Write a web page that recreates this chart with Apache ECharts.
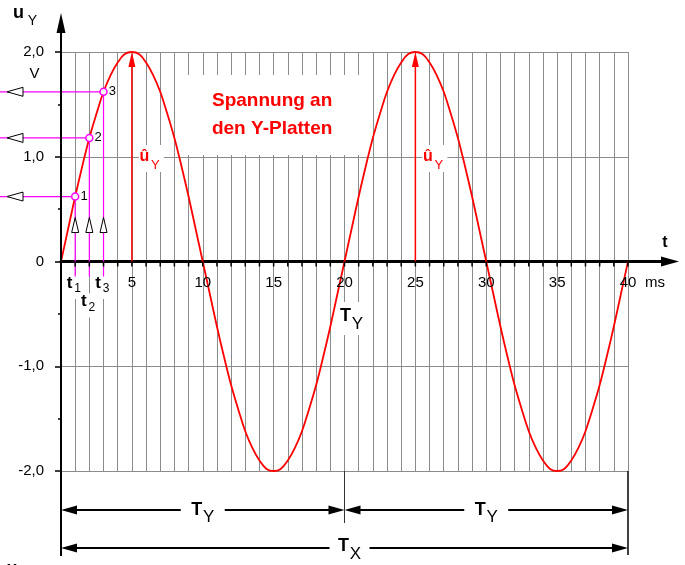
<!DOCTYPE html>
<html>
<head>
<meta charset="utf-8">
<script src="https://cdn.jsdelivr.net/npm/echarts@6/dist/echarts.min.js"></script>
<style>
  html, body { margin: 0; padding: 0; background: #fff; }
  #chart { width: 685px; height: 565px; }
</style>
</head>
<body>
<div id="chart"></div>
<script>
// time axis in ms (half-millisecond steps) and the voltage
const timeMs = [0, 0.5, 1, 1.5, 2, 2.5, 3, 3.5, 4, 4.5, 5, 5.5, 6, 6.5, 7, 7.5, 8, 8.5, 9, 9.5,
  10, 10.5, 11, 11.5, 12, 12.5, 13, 13.5, 14, 14.5, 15, 15.5, 16, 16.5, 17, 17.5, 18, 18.5, 19, 19.5,
  20, 20.5, 21, 21.5, 22, 22.5, 23, 23.5, 24, 24.5, 25, 25.5, 26, 26.5, 27, 27.5, 28, 28.5, 29, 29.5,
  30, 30.5, 31, 31.5, 32, 32.5, 33, 33.5, 34, 34.5, 35, 35.5, 36, 36.5, 37, 37.5, 38, 38.5, 39, 39.5, 40];
const voltageV = [0, 0.31, 0.62, 0.91, 1.18, 1.41, 1.62, 1.78, 1.90, 1.98,
  2.00, 1.98, 1.90, 1.78, 1.62, 1.41, 1.18, 0.91, 0.62, 0.31,
  0, -0.31, -0.62, -0.91, -1.18, -1.41, -1.62, -1.78, -1.90, -1.98,
  -2.00, -1.98, -1.90, -1.78, -1.62, -1.41, -1.18, -0.91, -0.62, -0.31,
  0, 0.31, 0.62, 0.91, 1.18, 1.41, 1.62, 1.78, 1.90, 1.98,
  2.00, 1.98, 1.90, 1.78, 1.62, 1.41, 1.18, 0.91, 0.62, 0.31,
  0, -0.31, -0.62, -0.91, -1.18, -1.41, -1.62, -1.78, -1.90, -1.98,
  -2.00, -1.98, -1.90, -1.78, -1.62, -1.41, -1.18, -0.91, -0.62, -0.31, 0];
const xTickLabels = [5, 10, 15, 20, 25, 30, 35, 40];
const peakTimes = [5, 25];
const readTimes = [1, 2, 3];
const readVolts = [0.62, 1.18, 1.62];
const readLabels = ['1', '2', '3'];
const readTimeSubs = ['1', '2', '3'];
const yTickLabels = { '2': '2,0', '1': '1,0', '0': '0', '-1': '-1,0', '-2': '-2,0' };
const periodBounds = [0, 20, 40];

const FONT = '"Liberation Sans", Arial, sans-serif';
const RED = '#ff0000';
const MAGENTA = '#ff00ff';
const GRIDC = '#8c8c8c';

const chart = echarts.init(document.getElementById('chart'));
chart.setOption({
  animation: false,
  grid: { left: 61, right: 57, top: 52, bottom: 94 },
  xAxis: {
    type: 'value', min: 0, max: 40, interval: 1,
    axisLine: { onZero: true, lineStyle: { color: '#000', width: 3 } },
    axisTick: { show: false },
    axisLabel: { show: false },
    splitLine: { show: true, lineStyle: { color: GRIDC, width: 1 } }
  },
  yAxis: {
    type: 'value', min: -2, max: 2, interval: 1,
    axisLine: { show: false },
    axisTick: { show: true, length: 6, lineStyle: { color: '#000', width: 1.5 } },
    minorTick: { show: true, splitNumber: 2, length: 3, lineStyle: { color: '#000', width: 1.5 } },
    axisLabel: {
      margin: 17, fontSize: 15, color: '#000', fontFamily: FONT,
      formatter: v => yTickLabels[String(v)] || ''
    },
    splitLine: { show: true, lineStyle: { color: GRIDC, width: 1 } }
  },
  series: [
    {
      type: 'line', z: 5,
      data: timeMs.map((t, i) => [t, voltageV[i]]),
      smooth: 0.4, showSymbol: false,
      lineStyle: { color: RED, width: 1.8 }
    },
    {
      type: 'scatter', z: 8,
      data: readTimes.map((t, i) => ({ value: [t, readVolts[i]], name: readLabels[i] })),
      symbol: 'circle', symbolSize: 7,
      itemStyle: { color: '#fff', borderColor: MAGENTA, borderWidth: 1.5, opacity: 1 },
      label: {
        show: true, position: 'right', distance: 1, formatter: p => p.name,
        fontSize: 13, color: '#000', fontFamily: FONT
      }
    }
  ]
});

// annotations placed through the chart's own scales
const P = (t, u) => chart.convertToPixel({ gridIndex: 0 }, [t, u]);
const [x0, y0] = P(0, 0);
const xEnd = P(40, 0)[0];
const yTop = P(0, 2)[1];
const yBot = P(0, -2)[1];
const el = [];

function line(x1, y1, x2, y2, color, width, z) {
  return { type: 'line', silent: true, z: z || 6, shape: { x1, y1, x2, y2 },
    style: { stroke: color, lineWidth: width } };
}
function tri(points, fill, stroke, z) {
  return { type: 'polygon', silent: true, z: z || 7, shape: { points },
    style: { fill, stroke: stroke || null, lineWidth: stroke ? 1 : 0 } };
}
function box(x, y, w, h) {
  return { type: 'rect', silent: true, z: 1, shape: { x, y, width: w, height: h }, style: { fill: '#fff' } };
}
function txt(x, y, text, size, o) {
  o = o || {};
  return { type: 'text', silent: true, z: 9, style: {
    text, x, y, fontSize: size, fontFamily: FONT, fontWeight: o.bold ? 'bold' : 'normal',
    fill: o.color || '#000', align: o.align || 'center', verticalAlign: 'middle',
    lineHeight: o.lineHeight
  } };
}
// main letter with subscript, positioned by their centres
function subLabel(cx, cy, main, sub, o) {
  return [
    txt(cx, cy, main, o.size, { bold: true, color: o.color }),
    txt(cx + o.dx, cy + o.dy, sub, o.subSize, { color: o.color })
  ];
}
function dimArrow(xa, xb, y) {
  el.push(line(xa + 10, y, xb - 10, y, '#000', 2, 6));
  el.push(tri([[xa, y], [xa + 16, y - 4.5], [xa + 16, y + 4.5]], '#000'));
  el.push(tri([[xb, y], [xb - 16, y - 4.5], [xb - 16, y + 4.5]], '#000'));
}

// y axis with arrow and extension below the grid
el.push(line(x0, yBot + 85, x0, yTop - 22, '#000', 2, 6));
el.push(tri([[x0, yTop - 39], [x0 - 4.5, yTop - 19], [x0 + 4.5, yTop - 19]], '#000'));
el.push(...subLabel(18.5, 13.5, 'u', 'Y', { size: 18, subSize: 14, dx: 14, dy: 8 }));
el.push(txt(x0 - 26.5, yTop + 22, 'V', 15));

// x axis ticks and labels on the zero line
timeMs.filter(t => t > 0 && t % 1 === 0).forEach(t => {
  const px = P(t, 0)[0];
  el.push(line(px, y0, px, y0 + 5, '#000', 1.5, 6));
});
xTickLabels.forEach(v => {
  el.push(txt(P(v, 0)[0], y0 + 21.5, String(v), 15));
});
el.push(line(xEnd, y0, xEnd + 36, y0, '#000', 3, 6));
el.push(tri([[xEnd + 51, y0], [xEnd + 33, y0 - 5], [xEnd + 33, y0 + 5]], '#000'));
el.push(txt(xEnd + 37, y0 - 19, 't', 16, { bold: true }));
el.push(txt(xEnd + 27, y0 + 21.5, 'ms', 15));

// read-off points 1..3
readTimes.forEach((t, i) => {
  const [px, py] = P(t, readVolts[i]);
  el.push(line(0, py, px, py, MAGENTA, 1.2, 4));
  el.push(tri([[7, py], [23, py - 4.5], [23, py + 4.5]], '#fff', '#000'));
  el.push(line(px, py, px, y0 + 15, MAGENTA, 1.2, 4));
  el.push(tri([[px, y0 - 44], [px - 3.5, y0 - 29], [px + 3.5, y0 - 29]], '#fff', '#000'));
  const ly = i === 1 ? y0 + 40 : y0 + 21.5;
  el.push(box(px - 12, ly - 8, 22, 24));
  el.push(...subLabel(px - 5.5, ly, 't', readTimeSubs[i], { size: 17, subSize: 12, dx: 8, dy: 6 }));
});

// peak arrows u-hat
peakTimes.forEach(t => {
  const [px, pb] = P(t, 0);
  const pt = P(t, 2)[1];
  el.push(line(px, pb, px, pt + 12, RED, 1.5, 5));
  el.push(tri([[px, pt], [px - 3.5, pt + 15], [px + 3.5, pt + 15]], RED, null, 5));
  el.push(box(px + 7, 145, 25, 27));
  el.push(...subLabel(px + 12.5, 157, '\u00fb', 'Y', { size: 16, subSize: 13, dx: 11, dy: 8, color: RED }));
});

// caption
const cx = P(15, 0)[0] - 1.5;
el.push(box(cx - 91, 75, 178, 80));
el.push(txt(cx, 115, 'Spannung an\nden Y-Platten', 19, { bold: true, color: RED, lineHeight: 28 }));

// T_Y at the zero crossing
const x20 = P(periodBounds[1], 0)[0];
el.push(box(x20 - 6, 302, 28, 33));
el.push(...subLabel(x20 + 1, y0 + 54.5, 'T', 'Y', { size: 18, subSize: 17, dx: 12, dy: 8.5 }));

// dimension lines below the grid
const xs = periodBounds.map(t => P(t, -2)[0]);
el.push(line(xs[1], yBot, xs[1], yBot + 52, '#333', 1, 6));
el.push(line(xs[2], yBot, xs[2], yBot + 84, '#000', 1.5, 6));
const r1 = yBot + 39, r2 = yBot + 77;
dimArrow(xs[0], xs[1], r1);
dimArrow(xs[1], xs[2], r1);
dimArrow(xs[0], xs[2], r2);
[[xs[0], xs[1]], [xs[1], xs[2]]].forEach(([a, b]) => {
  const m = (a + b) / 2;
  el.push(Object.assign(box(m - 22, r1 - 10, 44, 22), { z: 7 }));
  el.push(...subLabel(m - 6, r1, 'T', 'Y', { size: 18, subSize: 17, dx: 12, dy: 7 }));
});
el.push(Object.assign(box(xs[1] - 15, r2 - 10, 40, 24), { z: 7 }));
el.push(...subLabel(xs[1] - 1, r2 - 2, 'T', 'X', { size: 18, subSize: 17, dx: 12, dy: 8.5 }));
// cut-off u_X at the bottom edge
el.push(...subLabel(12, 569, 'u', 'X', { size: 18, subSize: 14, dx: 14, dy: 9 }));

chart.setOption({ graphic: { elements: el } });
</script>
</body>
</html>
